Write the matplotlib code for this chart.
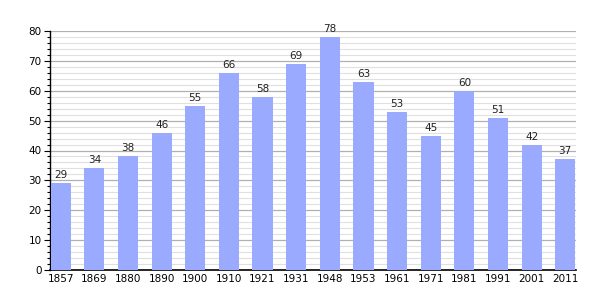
import matplotlib
matplotlib.use("Agg")
import matplotlib.pyplot as plt
from matplotlib.ticker import MultipleLocator

years = ["1857", "1869", "1880", "1890", "1900", "1910", "1921", "1931",
         "1948", "1953", "1961", "1971", "1981", "1991", "2001", "2011"]
values = [29, 34, 38, 46, 55, 66, 58, 69, 78, 63, 53, 45, 60, 51, 42, 37]

fig = plt.figure(figsize=(6.05, 3.0), dpi=100)
ax = fig.add_axes([50/605, 30/300, 526/605, 239/300])

x = list(range(len(years)))
ax.bar(x, values, width=0.6, color="#99aaff", zorder=3)
for xi, v in zip(x, values):
    ax.text(xi, v + 1, str(v), ha="center", va="bottom", fontsize=7.5, color="#222222", zorder=4)

ax.set_xlim(-0.32, len(years) - 1 + 0.32)
ax.set_ylim(0, 80)
ax.yaxis.set_major_locator(MultipleLocator(10))
ax.yaxis.set_minor_locator(MultipleLocator(2))
ax.grid(which="major", axis="y", color="#b0b0b0", linewidth=0.9, zorder=0)
ax.grid(which="minor", axis="y", color="#e0e0e0", linewidth=0.8, zorder=0)
ax.set_xticks(x)
ax.set_xticklabels(years, fontsize=7.5)
ax.tick_params(axis="x", length=0, pad=3)
ax.tick_params(axis="y", which="major", length=4, width=0.8, labelsize=7.5, pad=2)
ax.tick_params(axis="y", which="minor", length=2, width=0.8)
for s in ["top", "right"]:
    ax.spines[s].set_visible(False)
ax.spines["left"].set_linewidth(1)
ax.spines["bottom"].set_linewidth(1.2)

fig.savefig("out.png", dpi=100)
